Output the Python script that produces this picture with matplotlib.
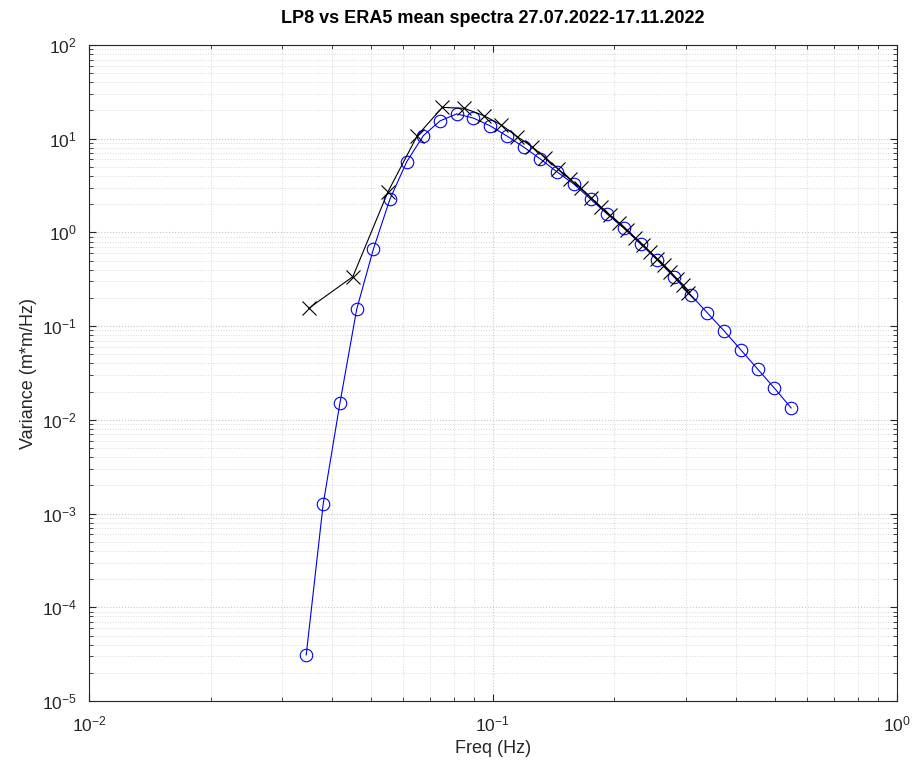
import matplotlib
matplotlib.use("Agg")
import matplotlib.pyplot as plt
from matplotlib.ticker import LogLocator, NullFormatter

plt.rcParams['font.family'] = ['Liberation Sans', 'DejaVu Sans']
plt.rcParams['axes.unicode_minus'] = False

# ERA5 spectrum (blue circles)
era5_freq = [0.0345, 0.0380, 0.0418, 0.0460, 0.0506, 0.0556, 0.0612, 0.0673,
             0.0740, 0.0814, 0.0895, 0.0985, 0.1083, 0.1192, 0.1311, 0.1442,
             0.1586, 0.1745, 0.1919, 0.2111, 0.2323, 0.2555, 0.2810, 0.3091,
             0.3400, 0.3741, 0.4115, 0.4526, 0.4979, 0.5477]
era5_var = [3.1e-5, 1.26e-3, 0.0150, 0.151, 0.665, 2.26, 5.69, 10.8,
            15.5, 18.4, 16.6, 13.7, 10.7, 8.15, 6.07, 4.42,
            3.29, 2.27, 1.57, 1.11, 0.751, 0.507, 0.334, 0.215,
            0.138, 0.0887, 0.0556, 0.0348, 0.0218, 0.0134]

# LP8 spectrum (black crosses)
lp8_freq = [0.035, 0.045, 0.055, 0.065, 0.075, 0.085, 0.095, 0.105,
            0.115, 0.125, 0.135, 0.145, 0.155, 0.165, 0.175, 0.185,
            0.195, 0.205, 0.215, 0.225, 0.235, 0.245, 0.255, 0.265,
            0.275, 0.285, 0.295, 0.305]
lp8_var = [0.155, 0.337, 2.72, 10.8, 21.6, 21.1, 17.6, 14.0,
           10.5, 8.22, 6.27, 4.75, 3.70, 2.95, 2.35, 1.85,
           1.52, 1.27, 1.06, 0.88, 0.74, 0.62, 0.525, 0.445,
           0.38, 0.32, 0.275, 0.225]

title = "LP8 vs ERA5 mean spectra 27.07.2022-17.11.2022"
xlabel = "Freq (Hz)"
ylabel = "Variance (m*m/Hz)"

fig = plt.figure(figsize=(9.15, 7.69), dpi=100)
ax = fig.add_axes([0.0973, 0.0884, 0.8827, 0.8531])

ax.plot(lp8_freq, lp8_var, color='black', marker='x', markersize=10,
        markeredgewidth=0.8, linewidth=0.8, zorder=3)
ax.plot(era5_freq, era5_var, color='#0000ee', marker='o', markersize=9,
        markerfacecolor='none', markeredgewidth=0.8, linewidth=0.8, zorder=2)

ax.set_xscale('log')
ax.set_yscale('log')
ax.set_xlim(1e-2, 1)
ax.set_ylim(1e-5, 1e2)

ax.xaxis.set_major_locator(LogLocator(base=10, numticks=10))
ax.yaxis.set_major_locator(LogLocator(base=10, numticks=10))
ax.xaxis.set_minor_locator(LogLocator(base=10, subs=range(2, 10), numticks=20))
ax.yaxis.set_minor_locator(LogLocator(base=10, subs=range(2, 10), numticks=20))
ax.xaxis.set_minor_formatter(NullFormatter())
ax.yaxis.set_minor_formatter(NullFormatter())

ax.grid(True, which='major', color='#c8c8c8', linestyle=':', linewidth=0.8)
ax.grid(True, which='minor', color='#d8d8d8', linestyle=':', linewidth=0.7)
ax.set_axisbelow(True)

ax.tick_params(which='both', direction='in', top=True, right=True,
               colors='#262626', labelsize=12.5)
ax.tick_params(axis='x', which='major', pad=10)
ax.tick_params(axis='y', which='major', pad=9)
ax.tick_params(which='major', length=5)
ax.tick_params(which='minor', length=3)
for s in ax.spines.values():
    s.set_color('#262626')
    s.set_linewidth(0.8)

ax.set_xlabel(xlabel, fontsize=13, color='#262626', labelpad=4)
ax.set_ylabel(ylabel, fontsize=13, color='#262626', labelpad=3)
ax.set_title(title, fontsize=13, fontweight='bold', pad=16)

fig.savefig("out.png", dpi=100)
